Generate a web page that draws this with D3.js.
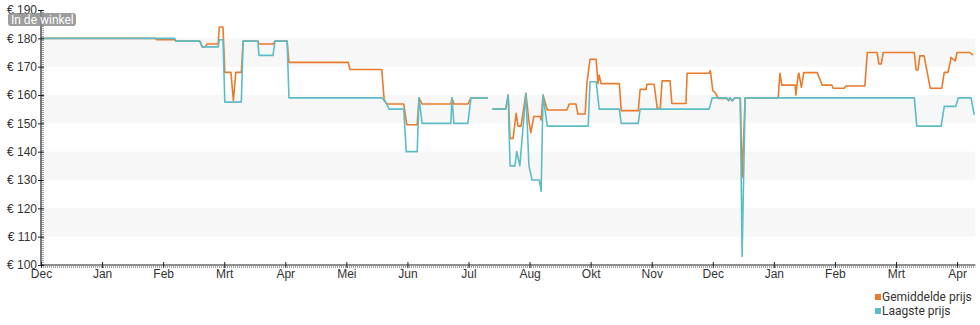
<!DOCTYPE html>
<html><head><meta charset="utf-8">
<script src="https://cdn.jsdelivr.net/npm/d3@7"></script>
<style>
html,body{margin:0;padding:0;background:#fff;}
svg{display:block;font-family:Roboto,"Noto Sans",sans-serif;}
</style></head>
<body><svg id="chart" width="980" height="325"></svg>
<script>
// month tick labels (evenly spaced in the original chart)
const monthLabels = ["Dec","Jan","Feb","Mrt","Apr","Mei","Jun","Jul","Aug","Okt","Nov","Dec","Jan","Feb","Mrt","Apr"];
const yTickValues = [100,110,120,130,140,150,160,170,180,190];
const seriesNames = ["Gemiddelde prijs","Laagste prijs"];
// [month position, price]; null price = gap
const gemiddeldePrijs = [
 [0,180],[1.87,180],[1.90,179.5],[2.19,179.5],[2.21,179],[2.60,179],[2.64,177],[2.69,177],[2.72,178],[2.90,178],
 [2.92,184],[2.98,184],[3.01,168],[3.11,168],[3.15,158],[3.19,168],[3.28,168],[3.31,179],[3.55,179],[3.57,178],
 [3.80,178],[3.83,179],[4.03,179],[4.06,171.5],[5.03,171.5],[5.06,169],[5.58,169],[5.62,158],[5.67,156.8],[5.94,156.8],
 [5.99,149.5],[6.16,149.5],[6.19,159],[6.24,156.8],[6.71,156.8],[6.73,159],[6.76,156.8],[6.99,156.8],[7.04,159],[7.32,159],
 [7.35,null],
 [7.39,155],[7.61,155],[7.65,160],[7.68,144.7],[7.73,144.7],[7.78,153.5],[7.81,149],[7.86,149],[7.94,160.6],[7.99,150.6],
 [8.02,146.7],[8.07,152.4],[8.17,152.4],[8.19,151.2],[8.22,160],[8.29,154.7],[8.61,154.7],[8.65,156.8],[8.76,156.8],[8.79,153.3],
 [8.91,153.3],[8.94,164.4],[8.99,172.6],[9.09,172.6],[9.12,164],[9.14,167],[9.17,164],[9.47,164],[9.50,154.5],[9.78,154.5],
 [9.81,162],[9.91,162],[9.92,163.8],[10.04,163.8],[10.09,155.3],[10.14,155.3],[10.17,165],[10.30,165],[10.33,157],[10.56,157],
 [10.58,167.7],[10.94,167.7],[10.96,168.6],[11.00,161.5],[11.04,160.8],[11.09,158.8],[11.23,158.8],[11.26,158],[11.28,159],[11.32,158],
 [11.36,159],[11.45,159],[11.48,131],[11.53,159],[12.07,159],[12.10,167.7],[12.13,163.5],[12.35,163.5],[12.36,160],[12.40,167.3],
 [12.41,167.7],[12.45,162.7],[12.49,167.9],[12.71,167.9],[12.79,163.5],[12.95,163.5],[12.97,162.4],[13.15,162.4],[13.18,163.2],[13.49,163.2],
 [13.53,175],[13.69,175],[13.72,171],[13.76,171],[13.79,175],[14.30,175],[14.33,168.8],[14.36,168.8],[14.39,173.8],[14.46,173.8],
 [14.56,162.4],[14.75,162.4],[14.79,168],[14.85,168],[14.89,171.8],[14.90,173.3],[14.97,172],[15.00,175],[15.21,175],[15.26,174.1]
];
const laagstePrijs = [
 [0,180],[2.19,180],[2.21,179],[2.60,179],[2.64,177],[2.90,177],[2.92,179.5],[2.98,179.5],[3.01,157.5],[3.28,157.5],
 [3.31,179],[3.55,179],[3.57,174],[3.80,174],[3.83,179],[4.03,179],[4.06,159],[5.58,159],[5.63,158],[5.70,155],
 [5.94,155],[5.98,140],[6.16,140],[6.19,159],[6.24,150],[6.71,150],[6.73,159],[6.76,150],[6.99,150],[7.04,159],[7.32,159],
 [7.35,null],
 [7.39,155],[7.61,155],[7.65,160],[7.68,135],[7.76,135],[7.79,140],[7.84,135],[7.94,160.5],[7.99,135],[8.04,130],
 [8.16,130],[8.19,126],[8.22,160],[8.29,149],[8.96,149],[8.99,164.7],[9.09,164.7],[9.14,155],[9.47,155],[9.50,150],
 [9.78,150],[9.81,155],[10.94,155],[10.99,159],[11.23,159],[11.26,158],[11.28,159],[11.32,158],[11.36,159],[11.45,159],
 [11.48,103],[11.53,159],[14.30,159],[14.34,149],[14.74,149],[14.79,156],[14.98,156],[15.02,159],[15.23,159],[15.28,153]
];
const colors = ["#ea7b2b","#5dbdc6"];

const svg = d3.select("#chart");
const pLeft = 41, pRight = 975.4, pTop = 10, pBottom = 265;
const x = d3.scaleLinear().domain([0,15.3]).range([pLeft,pRight]);
const y = d3.scaleLinear().domain([100,190]).range([pBottom,pTop]);

// alternating bands
const bands = [[170,180],[150,160],[130,140],[110,120]];
svg.append("g").selectAll("rect").data(bands).join("rect")
  .attr("x",pLeft).attr("width",pRight-pLeft)
  .attr("y",d=>y(d[1])).attr("height",d=>y(d[0])-y(d[1]))
  .attr("fill","#f7f7f7");

// lines
const line = d3.line().defined(d=>d[1]!=null).x(d=>x(d[0])).y(d=>y(d[1]));
svg.append("path").datum(gemiddeldePrijs).attr("d",line).attr("fill","none")
  .attr("stroke",colors[0]).attr("stroke-width",1.6).attr("stroke-linejoin","round");
svg.append("path").datum(laagstePrijs).attr("d",line).attr("fill","none")
  .attr("stroke",colors[1]).attr("stroke-width",1.6).attr("stroke-linejoin","round");

// y axis
const yAxis = d3.axisLeft(y).tickValues(yTickValues).tickSize(3).tickPadding(4).tickFormat(d=>"€ "+d);
const gy = svg.append("g").attr("transform",`translate(${pLeft},0)`).call(yAxis);
gy.select(".domain").remove();
gy.selectAll(".tick line").attr("x1",3).attr("x2",-3).attr("stroke","#222");
gy.selectAll("text").attr("font-size","12px").attr("fill","#333").attr("x",-4);
svg.append("line").attr("x1",pLeft).attr("x2",pLeft).attr("y1",pTop).attr("y2",pBottom).attr("stroke","#222").attr("stroke-width",1.2);
svg.append("line").attr("x1",pLeft+2).attr("x2",pLeft+2).attr("y1",pTop).attr("y2",pBottom).attr("stroke","#444").attr("stroke-dasharray","1,1");

// x axis
const xAxis = d3.axisBottom(x).tickValues(d3.range(monthLabels.length)).tickSize(3).tickPadding(1).tickFormat(i=>monthLabels[i]);
const gx = svg.append("g").attr("transform",`translate(0,${pBottom})`).call(xAxis);
gx.select(".domain").remove();
gx.selectAll(".tick line").attr("y1",-3).attr("y2",3).attr("stroke","#222");
gx.selectAll("text").attr("font-size","12px").attr("fill","#333");
svg.append("line").attr("x1",pLeft).attr("x2",pRight).attr("y1",pBottom).attr("y2",pBottom).attr("stroke","#222").attr("stroke-width",1.2);
svg.append("line").attr("x1",pLeft).attr("x2",pRight).attr("y1",pBottom+2).attr("y2",pBottom+2).attr("stroke","#444").attr("stroke-dasharray","1,1");

// badge
const badge = svg.append("g");
badge.append("rect").attr("x",8).attr("y",13).attr("width",68).attr("height",13).attr("rx",3)
  .attr("fill","rgba(140,140,140,0.85)");
badge.append("text").attr("x",11).attr("y",23.5).attr("font-size","12px").attr("fill","#fff").text("In de winkel");

// legend
const lg = svg.append("g").selectAll("g").data(seriesNames).join("g")
  .attr("transform",(d,i)=>`translate(875,${297+i*14})`);
lg.append("rect").attr("x",0).attr("y",-3).attr("width",6).attr("height",6).attr("fill",(d,i)=>colors[i]);
lg.append("text").attr("x",7).attr("y",4).attr("font-size","12px").attr("fill","#333").text(d=>d);
</script></body></html>
